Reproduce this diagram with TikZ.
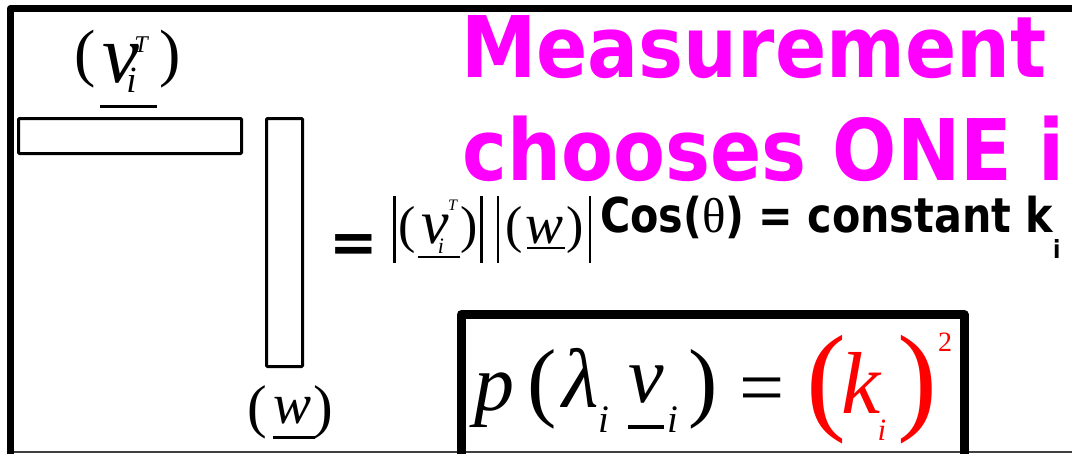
\documentclass[tikz,border=0pt]{standalone}
\usepackage{fontspec}
\setmainfont{Liberation Serif}
\newfontfamily\titlefont{DejaVu Sans}[FakeStretch=0.89]
\newfontfamily\cosfont{DejaVu Sans}[FakeStretch=0.86]
\newfontfamily\dvfont{DejaVu Sans}
\newcommand\fsz[1]{\fontsize{#1}{#1}\selectfont}
\definecolor{mag}{RGB}{255,0,255}
\definecolor{redk}{RGB}{255,0,0}
\begin{document}
\begin{tikzpicture}[x=1pt,y=-1pt,
  gl/.style={inner sep=0pt,outer sep=0pt},
  frame/.style={line width=7.5pt,line join=round},
  vecbox/.style={draw,line width=3pt,inner sep=0pt,rounded corners=1pt},
  absbar/.style={line width=2.5pt},
  ul/.style={line width=3pt},
  title/.style={gl,anchor=base,text=mag,font=\titlefont\bfseries\fsz{85}},
  red/.style={text=redk}]
\useasboundingbox (0,0) rectangle (1072,453);
\fill[white] (0,0) rectangle (1072,453);
% frame
\draw[frame] (10.5,470) -- (10.5,8.5) -- (1090,8.5);
\draw[black!75,line width=2pt] (14,451.5) -- (1090,451.5);
% vectors
\node[vecbox,minimum width=223pt,minimum height=35pt] (row) at (130,136) {};
\node[vecbox,minimum width=36pt,minimum height=248pt] (col) at (284.5,242.5) {};
% (v_i^T) label
\node[gl,font=\fsz{64}] (lp1) at (85,59.5) {(};
\node[gl,font=\fsz{83}\itshape] (v1) at (121,64) {v};
\node[gl,font=\fsz{24}\itshape] (T1) at (141,45) {T};
\node[gl,font=\fsz{37}\itshape] (i1) at (131.5,80.5) {i};
\node[gl,font=\fsz{64}] (rp1) at (170,59.5) {)};
\draw[ul] (100,106) -- (157,106);
% (w) label
\node[gl,font=\fsz{59}] (lp4) at (257.5,412) {(};
\node[gl,font=\fsz{57}\itshape] (w4) at (293,410.5) {w};
\node[gl,font=\fsz{59}] (rp4) at (323.5,412) {)};
\draw[ul] (273,437.5) -- (315,437.5);
% equals
\node[gl,font=\dvfont\bfseries\fsz{58}] (eq1) at (353.5,248.5) {=};
% |(v_i^T)| |(w)|
\draw[absbar] (394.5,196) -- (394.5,263);
\draw[absbar] (481.5,196) -- (481.5,263);
\draw[absbar] (498,196) -- (498,263);
\draw[absbar] (590,196) -- (590,263);
\node[gl,font=\fsz{52}] (lp2) at (407,230) {(};
\node[gl,font=\fsz{62}\itshape] (v2) at (435,230) {v};
\node[gl,font=\fsz{16}\itshape] (T2) at (452.5,205) {T};
\node[gl,font=\fsz{22}\itshape] (i2) at (441,246) {i};
\node[gl,font=\fsz{52}] (rp2) at (469.5,230) {)};
\draw[absbar] (418,257) -- (460,257);
\node[gl,font=\fsz{52}] (lp3) at (514,230) {(};
\node[gl,font=\fsz{57}\itshape] (w3) at (545,230.5) {w};
\node[gl,font=\fsz{52}] (rp3) at (575,230) {)};
\draw[absbar] (527,248) -- (565,248);
% Cos line
\node[gl,anchor=base west,font=\cosfont\bfseries\fsz{48}] (cos) at (600,232)
  {Cos({\rmfamily\mdseries\fsz{49}θ}) = constant k\raisebox{-26pt}{\fsz{25}i}};
% title
\node[title] (t1) at (754,77.5) {Measurement};
\node[title] (t2) at (763.5,180) {chooses ONE i};
% boxed formula
\draw[line width=9pt,line join=round] (461.5,470) -- (461.5,314.5) -- (964,314.5) -- (964,470);
\node[gl,font=\fsz{80}\itshape] (p) at (494,400) {p};
\node[gl,font=\fsz{88}] (lp5) at (542.5,389.5) {(};
\node[gl,font=\fsz{84}\itshape] (lam) at (581,377.5) {λ};
\node[gl,font=\fsz{39}\itshape] (i5) at (603.5,420) {i};
\node[gl,font=\fsz{80}\itshape] (v5) at (646,385) {v};
\draw[line width=4pt] (628,427) -- (664,427);
\node[gl,font=\fsz{39}\itshape] (i6) at (672.5,420) {i};
\node[gl,font=\fsz{88}] (rp5) at (703,389.5) {)};
\node[gl,font=\fsz{80}] (eq2) at (762.5,396) {=};
\node[gl,red,font=\fsz{120}] (lp6) at (826,389.5) {(};
\node[gl,red,font=\fsz{88}\itshape] (k) at (861.5,383) {k};
\node[gl,red,font=\fsz{31}\itshape] (i7) at (882,430.5) {i};
\node[gl,red,font=\fsz{120}] (rp6) at (917,389.5) {)};
\node[gl,red,font=\fsz{28}] (two) at (945,342.5) {2};
\end{tikzpicture}
\end{document}
